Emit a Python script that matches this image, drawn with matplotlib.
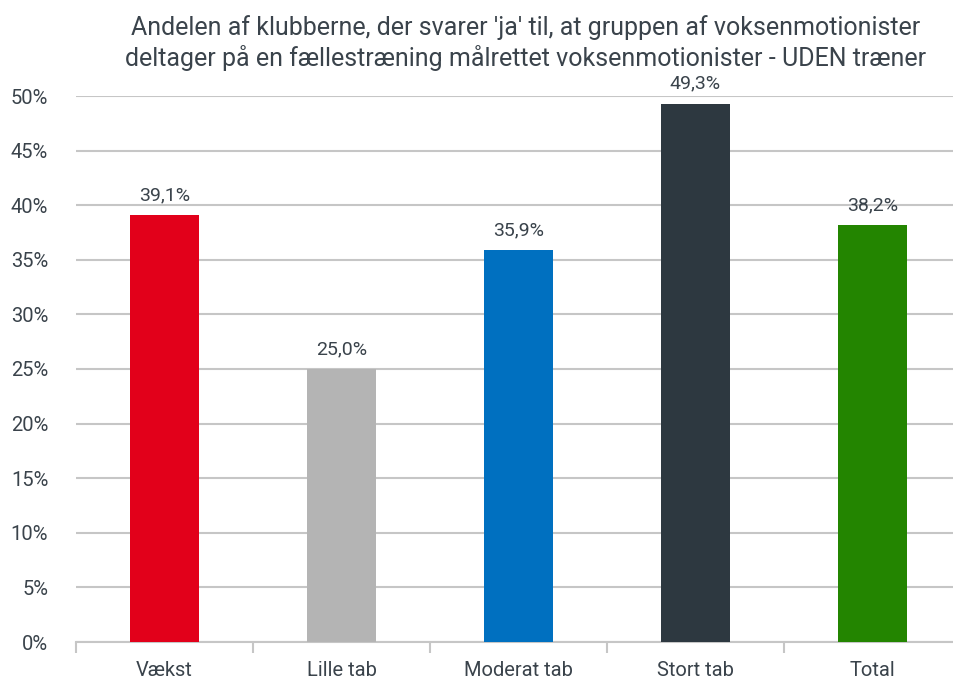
import matplotlib
matplotlib.use('Agg')
import matplotlib.pyplot as plt
import numpy as np

categories = ['Vækst', 'Lille tab', 'Moderat tab', 'Stort tab', 'Total']
values = [39.1, 25.0, 35.9, 49.3, 38.2]
colors = ['#E2001A', '#B4B4B4', '#0070C0', '#2D3840', '#238500']
title = ("Andelen af klubberne, der svarer 'ja' til, at gruppen af voksenmotionister\n"
         "deltager på en fællestræning målrettet voksenmotionister - UDEN træner")

plt.rcParams['font.family'] = ['Roboto', 'DejaVu Sans']
txt = '#3A434B'
grid = '#C6C6C6'

fig = plt.figure(figsize=(9.54, 6.79), dpi=100)
ax = fig.add_axes([76/954, 37/679, 885/954, 546/679])

x = np.arange(len(categories))
ax.bar(x, values, width=0.39, color=colors, zorder=3)
for xi, v in zip(x, values):
    ax.text(xi, v + 1.0, f'{v:.1f}%'.replace('.', ','), ha='center', va='bottom',
            fontsize=14, color=txt)

ax.set_xlim(-0.5, len(categories) - 0.5)
ax.set_ylim(0, 50)
yt = np.arange(0, 51, 5)
ax.set_yticks(yt)
ax.set_yticklabels([f'{t}%' for t in yt])
ax.yaxis.grid(True, color=grid, linewidth=1.5, zorder=0)
ax.tick_params(axis='y', length=0, pad=20, labelsize=14.5, labelcolor=txt)

ax.set_xticks(x)
ax.set_xticklabels(categories)
ax.set_xticks(np.arange(-0.5, len(categories)), minor=True)
ax.tick_params(axis='x', which='major', length=0, pad=14, labelsize=14.5, labelcolor=txt)
ax.tick_params(axis='x', which='minor', length=8, width=1.5, color=grid)

for s in ['top', 'right', 'left']:
    ax.spines[s].set_visible(False)
ax.spines['bottom'].set_color(grid)
ax.spines['bottom'].set_linewidth(1.5)

fig.text(526/954, 1 - 43/679, title, ha='center', va='center', fontsize=18,
         color=txt, linespacing=1.25)

fig.savefig('out.png', dpi=100)
